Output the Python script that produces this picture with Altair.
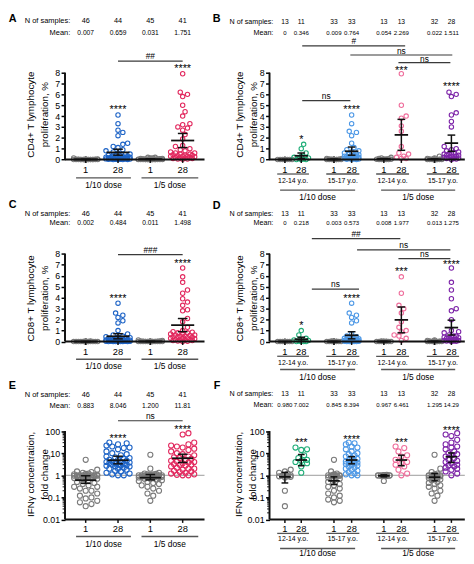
import math
import altair as alt
import pandas as pd

FONT = "Liberation Sans"

# ======================= DATA =======================
DOSES = ["1/10 dose", "1/5 dose"]
DAY_LABELS = ["1", "28", "1", "28", "1", "28", "1", "28"]
AGES = ["12-14 y.o.", "15-17 y.o.", "12-14 y.o.", "15-17 y.o."]
PROLIF_TICKS = [0, 1, 2, 3, 4, 5, 6, 7, 8]
FOLD_TICKS = [0.01, 0.1, 1, 10, 100]
TITLE_CD4 = ["CD4+ T lymphocyte", "proliferation, %"]
TITLE_CD8 = ["CD8+ T lymphocyte", "proliferation, %"]
TITLE_IFN = ["IFN\u03b3 concentration,", "fold change"]

# ---- A: CD4+ proliferation, %
A_N = ["46", "44", "45", "41"]
A_MEAN = ["0.007", "0.659", "0.031", "1.751"]
A_G1 = [0.15, 0.05, 0.03, 0.02, 0.02, 0.01, 0.01, 0.01, 0.01, 0.01, 0.01,
        0, 0, 0, 0, 0, 0, 0, 0, 0, 0, 0, 0, 0, 0, 0, 0, 0, 0, 0, 0,
        0, 0, 0, 0, 0, 0, 0, 0, 0, 0, 0, 0, 0, 0, 0]
A_G2 = [4.1, 3.3, 2.7, 2.5, 2.2, 1.5, 1.4, 1.2, 1.1, 0.9, 0.8, 0.7, 0.6, 0.5,
        0.45, 0.4, 0.38, 0.35, 0.3, 0.3, 0.28, 0.25, 0.22, 0.2, 0.2, 0.18,
        0.15, 0.15, 0.12, 0.1, 0.1, 0.08, 0.08, 0.06, 0.05, 0.05, 0.04, 0.03,
        0.02, 0.02, 0.01, 0, 0, 0]
A_G3 = [0.2, 0.2, 0.15, 0.15, 0.1, 0.1, 0.08, 0.06, 0.05, 0.04, 0.03, 0.03,
        0.03, 0.03, 0.03, 0.02, 0.02, 0.02, 0.02, 0.02, 0.01, 0.01, 0.01, 0.01,
        0.01, 0, 0, 0, 0, 0, 0, 0, 0, 0, 0, 0, 0, 0, 0, 0, 0, 0, 0, 0, 0]
A_G4 = [7.9, 6.2, 6.0, 5.8, 5.0, 4.4, 4.0, 3.3, 3.2, 3.0, 2.9, 2.7, 2.3, 1.9,
        1.3, 1.2, 1.0, 0.9, 0.8, 0.7, 0.6, 0.6, 0.5, 0.5, 0.45, 0.4, 0.4, 0.35,
        0.3, 0.3, 0.3, 0.25, 0.2, 0.2, 0.15, 0.15, 0.1, 0.1, 0.05, 0.05, 0.02]
A_CENTER = [0.007, 0.659, 0.031, 1.751]
A_LO = [0.0, 0.40, 0.01, 1.10]
A_HI = [0.015, 0.95, 0.05, 2.40]

# ---- B: CD4+ proliferation by age group
B_N = ["13", "11", "33", "33", "13", "13", "32", "28"]
B_MEAN = ["0", "0.346", "0.009", "0.764", "0.054", "2.269", "0.022", "1.511"]
B_G1 = [0, 0, 0, 0, 0, 0, 0, 0, 0, 0, 0, 0, 0]
B_G2 = [1.4, 1.0, 0.6, 0.3, 0.2, 0.15, 0.1, 0.05, 0, 0, 0]
B_G3 = [0.1, 0.08, 0.05, 0.03, 0.02, 0.01, 0.01, 0, 0, 0, 0, 0, 0, 0, 0, 0,
        0, 0, 0, 0, 0, 0, 0, 0, 0, 0, 0, 0, 0, 0, 0, 0, 0]
B_G4 = [4.1, 3.3, 2.6, 2.5, 2.2, 1.5, 1.1, 0.9, 0.8, 0.7, 0.6, 0.5, 0.5, 0.45,
        0.4, 0.35, 0.3, 0.3, 0.3, 0.25, 0.2, 0.2, 0.2, 0.15, 0.15, 0.1, 0.1,
        0.1, 0.05, 0.05, 0.02, 0.01, 0]
B_G5 = [0.2, 0.15, 0.1, 0.08, 0.06, 0.05, 0.03, 0.02, 0.01, 0, 0, 0, 0]
B_G6 = [7.9, 5.0, 4.0, 3.8, 3.1, 2.6, 1.2, 0.6, 0.5, 0.3, 0.2, 0.1, 0.1]
B_G7 = [0.3, 0.15, 0.1, 0.05, 0.05, 0.03, 0.02, 0.01, 0.01, 0, 0, 0, 0, 0, 0,
        0, 0, 0, 0, 0, 0, 0, 0, 0, 0, 0, 0, 0, 0, 0, 0, 0]
B_G8 = [6.2, 6.0, 5.8, 4.3, 4.1, 3.5, 3.0, 1.2, 1.0, 0.9, 0.8, 0.7, 0.6, 0.6,
        0.5, 0.5, 0.4, 0.4, 0.3, 0.3, 0.3, 0.2, 0.2, 0.15, 0.1, 0.1, 0.05, 0]
B_CENTER = [0, 0.346, 0.009, 0.764, 0.054, 2.269, 0.022, 1.511]
B_LO = [0, 0.10, 0.0, 0.40, 0.02, 0.85, 0.0, 0.75]
B_HI = [0, 0.60, 0.02, 1.15, 0.09, 3.70, 0.04, 2.25]

# ---- C: CD8+ proliferation, %
C_N = ["46", "44", "45", "41"]
C_MEAN = ["0.002", "0.484", "0.011", "1.498"]
C_G1 = [0.05, 0.02, 0.01, 0.01, 0, 0, 0, 0, 0, 0, 0, 0, 0, 0, 0, 0, 0, 0, 0,
        0, 0, 0, 0, 0, 0, 0, 0, 0, 0, 0, 0, 0, 0, 0, 0, 0, 0, 0, 0, 0, 0, 0,
        0, 0, 0, 0]
C_G2 = [3.5, 2.6, 2.4, 2.2, 1.9, 1.7, 1.0, 0.7, 0.6, 0.5, 0.45, 0.4, 0.35, 0.3,
        0.3, 0.25, 0.25, 0.2, 0.2, 0.2, 0.15, 0.15, 0.15, 0.12, 0.1, 0.1, 0.1,
        0.08, 0.08, 0.06, 0.05, 0.05, 0.04, 0.03, 0.03, 0.02, 0.02, 0.01, 0.01,
        0, 0, 0, 0, 0]
C_G3 = [0.15, 0.1, 0.05, 0.05, 0.04, 0.03, 0.02, 0.02, 0.02, 0.01, 0.01, 0, 0,
        0, 0, 0, 0, 0, 0, 0, 0, 0, 0, 0, 0, 0, 0, 0, 0, 0, 0, 0, 0, 0, 0, 0, 0,
        0, 0, 0, 0, 0, 0, 0, 0]
C_G4 = [6.7, 5.9, 5.4, 4.7, 4.4, 3.9, 3.6, 3.3, 2.9, 2.8, 2.1, 1.8, 1.3, 1.0,
        0.9, 0.85, 0.8, 0.8, 0.7, 0.7, 0.6, 0.6, 0.55, 0.5, 0.5, 0.45, 0.4, 0.4,
        0.35, 0.3, 0.3, 0.25, 0.2, 0.2, 0.15, 0.15, 0.1, 0.1, 0.05, 0.02, 0]
C_CENTER = [0.002, 0.484, 0.011, 1.498]
C_LO = [0.0, 0.25, 0.0, 0.90]
C_HI = [0.004, 0.72, 0.02, 2.10]

# ---- D: CD8+ proliferation by age group
D_N = ["13", "11", "33", "33", "13", "13", "32", "28"]
D_MEAN = ["0", "0.218", "0.003", "0.573", "0.008", "1.977", "0.013", "1.275"]
D_G1 = [0, 0, 0, 0, 0, 0, 0, 0, 0, 0, 0, 0, 0]
D_G2 = [1.0, 0.6, 0.3, 0.2, 0.15, 0.1, 0.05, 0, 0, 0, 0]
D_G3 = [0.05, 0.03, 0.02, 0, 0, 0, 0, 0, 0, 0, 0, 0, 0, 0, 0, 0, 0, 0, 0, 0,
        0, 0, 0, 0, 0, 0, 0, 0, 0, 0, 0, 0, 0]
D_G4 = [3.5, 2.6, 2.4, 2.2, 1.9, 1.7, 0.7, 0.5, 0.45, 0.4, 0.35, 0.3, 0.3, 0.25,
        0.2, 0.2, 0.2, 0.15, 0.15, 0.1, 0.1, 0.1, 0.08, 0.05, 0.05, 0.03, 0.02,
        0.02, 0.01, 0, 0, 0, 0]
D_G5 = [0.05, 0.03, 0.02, 0, 0, 0, 0, 0, 0, 0, 0, 0, 0]
D_G6 = [5.9, 4.4, 3.3, 3.0, 2.6, 1.8, 1.3, 1.0, 0.9, 0.6, 0.5, 0.3, 0.1]
D_G7 = [0.15, 0.1, 0.05, 0.05, 0.03, 0.02, 0.01, 0.01, 0, 0, 0, 0, 0, 0, 0, 0,
        0, 0, 0, 0, 0, 0, 0, 0, 0, 0, 0, 0, 0, 0, 0, 0]
D_G8 = [6.7, 5.4, 4.7, 3.9, 3.0, 2.8, 2.0, 1.0, 0.9, 0.8, 0.6, 0.5, 0.5, 0.4,
        0.4, 0.35, 0.3, 0.3, 0.2, 0.2, 0.15, 0.1, 0.1, 0.1, 0.05, 0.05, 0.02, 0]
D_CENTER = [0, 0.218, 0.003, 0.573, 0.008, 1.977, 0.013, 1.275]
D_LO = [0, 0.03, 0, 0.25, 0, 0.80, 0, 0.60]
D_HI = [0, 0.40, 0.006, 0.90, 0.017, 3.15, 0.025, 1.95]

# ---- E: IFN-gamma fold change (log scale)
E_N = ["46", "44", "45", "41"]
E_MEAN = ["0.883", "8.046", "1.200", "11.81"]
E_G1 = [5.0, 1.8, 1.5, 1.4, 1.3, 1.2, 1.15, 1.1, 1.05, 1.0, 1.0, 1.0, 1.0, 1.0,
        1.0, 1.0, 0.95, 0.95, 0.9, 0.9, 0.9, 0.85, 0.85, 0.8, 0.8, 0.75, 0.7,
        0.65, 0.6, 0.5, 0.45, 0.4, 0.35, 0.3, 0.3, 0.25, 0.2, 0.2, 0.15, 0.12,
        0.1, 0.09, 0.07, 0.06, 0.05, 0.04]
E_G2 = [30, 28, 25, 22, 20, 18, 17, 15, 12, 10, 8, 7, 6, 5.5, 5, 4.5, 4, 4,
        3.5, 3.5, 3, 3, 3, 2.8, 2.5, 2.5, 2.2, 2, 2, 1.8, 1.6, 1.5, 1.3, 1.2,
        1.1, 1.0, 1.0, 5, 4.2, 3.8, 3.2, 2.7, 6.5, 9]
E_G3 = [8.5, 2.0, 1.3, 1.2, 1.15, 1.1, 1.1, 1.05, 1.0, 1.0, 1.0, 1.0, 1.0, 1.0,
        1.0, 1.0, 1.0, 1.0, 1.0, 0.95, 0.95, 0.9, 0.9, 0.9, 0.85, 0.85, 0.8,
        0.8, 0.8, 0.75, 0.7, 0.7, 0.65, 0.6, 0.55, 0.5, 0.45, 0.4, 0.35, 0.3,
        0.25, 0.2, 0.15, 0.12, 0.07]
E_G4 = [80, 70, 30, 25, 22, 20, 18, 16, 14, 12, 10, 9, 8, 7, 6.5, 6, 5.5, 5,
        4.5, 4, 3.8, 3.5, 3.2, 3, 3, 2.8, 2.5, 2.2, 2, 2, 1.8, 1.6, 1.5, 1.4,
        1.3, 1.2, 1.1, 1.05, 1.0, 1.0, 4.2]
E_CENTER = [0.60, 4.8, 0.78, 5.9]
E_LO = [0.43, 3.3, 0.62, 3.8]
E_HI = [0.95, 7.3, 1.08, 9.0]

# ---- F: IFN-gamma fold change by age group (log scale)
F_N = ["13", "11", "33", "33", "13", "13", "32", "28"]
F_MEAN = ["0.980", "7.002", "0.845", "8.394", "0.967", "6.461", "1.295", "14.29"]
F_G1 = [1.8, 1.5, 1.3, 1.2, 1.0, 1.0, 0.95, 0.9, 0.9, 0.85, 0.8, 0.2, 0.04]
F_G2 = [18, 15, 14, 8, 6, 5, 4.5, 4, 3.5, 2.5, 1.3]
F_G3 = [5.0, 1.5, 1.2, 1.1, 1.0, 1.0, 1.0, 1.0, 1.0, 1.0, 1.0, 1.0, 1.0, 1.0,
        0.95, 0.9, 0.9, 0.85, 0.8, 0.7, 0.6, 0.5, 0.4, 0.35, 0.3, 0.25, 0.2,
        0.15, 0.12, 0.1, 0.08, 0.07, 0.06]
F_G4 = [30, 28, 25, 20, 18, 15, 12, 10, 9, 8, 7, 6, 5.5, 5, 4.5, 4.2, 4, 3.8,
        3.6, 3.5, 3.2, 3, 2.8, 2.5, 2.2, 2, 1.8, 1.6, 1.4, 1.2, 1.1, 1.0, 1.0]
F_G5 = [1.05, 1.02, 1.0, 1.0, 1.0, 1.0, 1.0, 0.98, 0.98, 0.97, 0.95, 0.93, 0.55]
F_G6 = [20, 17, 12, 8, 7, 5, 4, 3.5, 3, 2.5, 1.8, 1.2, 1.0]
F_G7 = [8.5, 2.0, 1.4, 1.2, 1.1, 1.0, 1.0, 1.0, 1.0, 1.0, 1.0, 1.0, 1.0, 0.95,
        0.9, 0.9, 0.85, 0.8, 0.75, 0.7, 0.65, 0.6, 0.5, 0.45, 0.4, 0.35, 0.3,
        0.25, 0.2, 0.15, 0.12, 0.07]
F_G8 = [80, 70, 60, 40, 30, 25, 20, 18, 15, 12, 10, 9, 8, 7, 6, 5, 4.5, 4, 3.5,
        3, 2.8, 2.5, 2.2, 2, 1.8, 1.5, 1.2, 1.0]
F_CENTER = [0.85, 4.9, 0.56, 4.9, 0.95, 4.9, 0.82, 6.9]
F_LO = [0.45, 2.7, 0.38, 3.3, 0.85, 2.7, 0.56, 3.8]
F_HI = [1.35, 8.7, 0.85, 7.0, 1.05, 8.1, 1.2, 10.3]

# ======================= STYLE / LAYOUT =======================
BLACK = "#111111"
GRAY = "#7a7a7a"
BLUE = "#1d63c6"
RED = "#e2285e"
GREEN = "#1fae78"
LBLUE = "#4d98e6"
PINK = "#ef6e9c"
PURPLE = "#7d24a8"
BRK = "#3a3a3a"
ULINE = "#555555"

SX = 464 / 474
SY = 554 / 564

ROWS = {
    1: dict(top=0, bottom=185, log=False, y0=151.0, k=11.25),
    2: dict(top=185, bottom=370, log=False, y0=339.3, k=11.375),
    3: dict(top=370, bottom=564, log=True, y0=523.3, k=22.9),
}
COLS = {
    "L": dict(left=58.5, right=203.5, x0=80.0, u=33.6, base=1.0),
    "R": dict(left=271.0, right=474.0, x0=287.0, u=17.0, base=0.0),
}
CAT_L = [1, 2, 3, 4]
CAT_R = [0, 1, 3.0, 4.08, 6.05, 7.12, 9.15, 10.18]


def yv(row, ypx):
    r = ROWS[row]
    t = (r["y0"] - ypx) / r["k"]
    return 10 ** (t - 2) if r["log"] else t


def ypx(row, v):
    r = ROWS[row]
    return r["y0"] - r["k"] * ((math.log10(v) + 2) if r["log"] else v)


def xv(col, xp):
    c = COLS[col]
    return c["base"] + (xp - c["x0"]) / c["u"]


def xpx(col, pos):
    c = COLS[col]
    return c["x0"] + c["u"] * (pos - c["base"])


def swarm(ys, diam, cap):
    step = diam * 0.5
    cands = [0.0]
    k = 1
    while k * step <= cap + 1e-9:
        cands += [k * step, -k * step]
        k += 1
    order = sorted(range(len(ys)), key=lambda i: (-ys[i], i))
    placed = []
    offs = [0.0] * len(ys)
    for i in order:
        y = ys[i]
        best, bestd = 0.0, -1.0
        for c in cands:
            md = min((math.hypot(c - px, y - py) for px, py in placed), default=1e9)
            if md >= diam:
                best = c
                break
            if md > bestd + 1e-9:
                bestd, best = md, c
        offs[i] = best
        placed.append((best, y))
    return offs


PANELS = [
    dict(row=1, col="L", letter="A", letter_xy=(0, 5.5),
         groups=[A_G1, A_G2, A_G3, A_G4], colors=[GRAY, BLUE, GRAY, RED],
         N=A_N, means=A_MEAN, center=A_CENTER, lo=A_LO, hi=A_HI,
         label_x=64, n_y=8, m_y=20, hfs=6.8, lfs=7.6,
         stars=[(1, "****", 97), (3, "****", 54)],
         brackets=[(113.6, 180.8, 49, "##", 44)],
         tick_y=162, grp_y=170, grp_lab_y=177,
         title=TITLE_CD4, title_dx=-28.5, title_y=104,
         diam=5, cap=13, mean_hw=12, cap_hw=5, size=20),
    dict(row=1, col="R", letter="B", letter_xy=(212, 5.5),
         groups=[B_G1, B_G2, B_G3, B_G4, B_G5, B_G6, B_G7, B_G8],
         colors=[GRAY, GREEN, GRAY, LBLUE, GRAY, PINK, GRAY, PURPLE],
         N=B_N, means=B_MEAN, center=B_CENTER, lo=B_LO, hi=B_HI,
         label_x=275, n_y=8.3, m_y=20, hfs=6.2, lfs=7.3,
         stars=[(1, "*", 128), (3, "****", 97), (5, "***", 56), (7, "****", 73)],
         brackets=[(305, 412, 33.3, "#", 28.5), (355, 461, 42.7, "ns", 38.5),
                   (405, 459, 50.7, "ns", 46.5), (305, 355, 90, "ns", 85)],
         tick_y=161.5, pair_y=166, age_y=173.5, dose_y=182.7, dose_lab_y=190,
         title=TITLE_CD4, title_dx=-24, title_y=104,
         diam=5, cap=7.5, mean_hw=7, cap_hw=4, size=20),
    dict(row=2, col="L", letter="C", letter_xy=(0, 198),
         groups=[C_G1, C_G2, C_G3, C_G4], colors=[GRAY, BLUE, GRAY, RED],
         N=C_N, means=C_MEAN, center=C_CENTER, lo=C_LO, hi=C_HI,
         label_x=64, n_y=206.7, m_y=216.7, hfs=6.8, lfs=7.6,
         stars=[(1, "****", 291.7), (3, "****", 256)],
         brackets=[(113.6, 180.8, 249.3, "###", 244.5)],
         tick_y=350, grp_y=357.7, grp_lab_y=365,
         title=TITLE_CD8, title_dx=-28.5, title_y=109,
         diam=5, cap=13, mean_hw=12, cap_hw=5, size=20),
    dict(row=2, col="R", letter="D", letter_xy=(212, 199),
         groups=[D_G1, D_G2, D_G3, D_G4, D_G5, D_G6, D_G7, D_G8],
         colors=[GRAY, GREEN, GRAY, LBLUE, GRAY, PINK, GRAY, PURPLE],
         N=D_N, means=D_MEAN, center=D_CENTER, lo=D_LO, hi=D_HI,
         label_x=275, n_y=206.7, m_y=216.7, hfs=6.2, lfs=7.3,
         stars=[(1, "*", 320), (3, "****", 292.5), (5, "***", 264), (7, "****", 257)],
         brackets=[(315, 407, 232.7, "##", 227.5), (362, 459, 244.3, "ns", 239),
                   (405, 459, 253.3, "ns", 248.5), (315, 364, 285, "ns", 280)],
         tick_y=350, pair_y=354.5, age_y=361, dose_y=368.3, dose_lab_y=376.5,
         title=TITLE_CD8, title_dx=-24, title_y=109,
         diam=5, cap=7.5, mean_hw=7, cap_hw=4, size=20),
    dict(row=3, col="L", letter="E", letter_xy=(0, 385),
         groups=[E_G1, E_G2, E_G3, E_G4], colors=[GRAY, BLUE, GRAY, RED],
         N=E_N, means=E_MEAN, center=E_CENTER, lo=E_LO, hi=E_HI,
         label_x=64, n_y=394, m_y=406, hfs=6.8, lfs=7.6,
         stars=[(1, "****", 437.3), (3, "****", 427.3)],
         brackets=[(113.6, 180.8, 421, "ns", 416.5)],
         tick_y=533.3, grp_y=541, grp_lab_y=548.3,
         title=TITLE_IFN, title_dx=-28.5, title_y=106,
         diam=6, cap=12, mean_hw=11, cap_hw=5, size=27),
    dict(row=3, col="R", letter="F", letter_xy=(213, 385),
         groups=[F_G1, F_G2, F_G3, F_G4, F_G5, F_G6, F_G7, F_G8],
         colors=[GRAY, GREEN, GRAY, LBLUE, GRAY, PINK, GRAY, PURPLE],
         N=F_N, means=F_MEAN, center=F_CENTER, lo=F_LO, hi=F_HI,
         label_x=275, n_y=393.3, m_y=405, hfs=6.2, lfs=7.3,
         stars=[(1, "***", 441), (3, "****", 438.3), (5, "***", 441), (7, "****", 428.3)],
         brackets=[],
         tick_y=533.3, pair_y=537.7, age_y=544, dose_y=553.3, dose_lab_y=558.5,
         title=TITLE_IFN, title_dx=-25, title_y=106,
         diam=6, cap=8, mean_hw=6, cap_hw=3.5, size=27),
]

TITLE_LH = 14


def panel(P):
    row, col = P["row"], P["col"]
    R, C = ROWS[row], COLS[col]
    cats = CAT_L if col == "L" else CAT_R
    W = (C["right"] - C["left"]) * SX
    H = (R["bottom"] - R["top"]) * SY
    xdom = [xv(col, C["left"]), xv(col, C["right"])]
    ydom = [yv(row, R["bottom"]), yv(row, R["top"])]
    xs = alt.Scale(domain=xdom, nice=False, zero=False)
    ys = alt.Scale(type="log" if R["log"] else "linear", domain=ydom, nice=False, zero=False)
    axis = alt.Axis(
        values=FOLD_TICKS if R["log"] else PROLIF_TICKS,
        format="~g", title=P["title"],
        titleX=P["title_dx"] * SX - TITLE_LH / 2, titleY=P["title_y"] * SY,
        titleAngle=270, titleAlign="center", titleBaseline="middle",
        titleFontSize=10, titleFontWeight="normal", titleLineHeight=TITLE_LH, titleColor="black",
        labelFontSize=9, labelColor="black", labelPadding=1.5, labelOverlap=False,
        tickColor="black", tickWidth=1.5, tickSize=4, domain=False, grid=False,
    )
    X = alt.X("x:Q", scale=xs, axis=None)
    Y = alt.Y("y:Q", scale=ys, axis=axis)
    ybot = 0.01 if R["log"] else 0.0
    ytop = 100.0 if R["log"] else 8.0
    u = C["u"]

    pts = []
    for gi, vals in enumerate(P["groups"]):
        yp = [ypx(row, v) for v in vals]
        offs = swarm(yp, P["diam"], P["cap"])
        for v, o in zip(vals, offs):
            pts.append(dict(x=cats[gi] + o / u, y=v, c=P["colors"][gi]))
    pts = pd.DataFrame(pts)

    back, front = [], []

    def seg(lst, x1, x2, y1, y2, c, w):
        lst.append(dict(x=x1, x2=x2, y=y1, y2=y2, c=c, w=w))

    if R["log"]:
        seg(back, xdom[0], xdom[1], 1.0, 1.0, "#9a9a9a", 1.0)
        for d in range(-2, 2):
            for m in range(2, 10):
                v = m * 10 ** d
                seg(front, xdom[0] - 2.5 / u, xdom[0], v, v, BLACK, 1.0)
    seg(back, xdom[0], xdom[0], ybot, ytop, BLACK, 2.0)
    for gi in range(len(P["groups"])):
        p = cats[gi]
        m, lo, hi = P["center"][gi], P["lo"][gi], P["hi"][gi]
        hw, cw = P["mean_hw"] / u, P["cap_hw"] / u
        seg(front, p - hw, p + hw, m, m, BLACK, 1.8)
        if hi > lo:
            seg(front, p, p, lo, hi, BLACK, 1.5)
            seg(front, p - cw, p + cw, lo, lo, BLACK, 1.5)
            seg(front, p - cw, p + cw, hi, hi, BLACK, 1.5)
    seg(front, xdom[0], xdom[1], ybot, ybot, BLACK, 2.0)
    for p in cats:
        seg(front, p, p, ybot, yv(row, ypx(row, ybot) + 3.5), BLACK, 1.5)

    texts = []

    def txt(x, y, t, fs):
        texts.append(dict(x=x, y=y, t=t, fs=fs))

    for (x1, x2, yb, t, ty) in P["brackets"]:
        seg(front, xv(col, x1), xv(col, x2), yv(row, yb), yv(row, yb), BRK, 1.2)
        txt(xv(col, (x1 + x2) / 2), yv(row, ty), t, 8.5)
    for gi, p in enumerate(cats):
        txt(p, yv(row, P["n_y"]), P["N"][gi], P["hfs"] + 0.6)
        txt(p, yv(row, P["m_y"]), P["means"][gi], P["hfs"])
        txt(p, yv(row, P["tick_y"]), DAY_LABELS[gi], 9.5)
    if col == "L":
        for (a, b), lab in zip([(70, 127), (138, 197)], DOSES):
            seg(front, xv(col, a), xv(col, b), yv(row, P["grp_y"]), yv(row, P["grp_y"]), ULINE, 1.5)
            txt(xv(col, (a + b) / 2), yv(row, P["grp_lab_y"]), lab, 8.5)
    else:
        for j in range(4):
            a = xpx(col, cats[2 * j]) - 8
            b = xpx(col, cats[2 * j + 1]) + 8
            seg(front, xv(col, a), xv(col, b), yv(row, P["pair_y"]), yv(row, P["pair_y"]), ULINE, 1.3)
            txt(xv(col, (a + b) / 2), yv(row, P["age_y"]), AGES[j], 7)
        for (a, b), lab in zip([(282, 360), (387, 464)], DOSES):
            seg(front, xv(col, a), xv(col, b), yv(row, P["dose_y"]), yv(row, P["dose_y"]), ULINE, 1.5)
            txt(xv(col, (a + b) / 2), yv(row, P["dose_lab_y"]), lab, 8.5)

    stars = pd.DataFrame([dict(x=cats[g], y=yv(row, sy), t=t) for g, t, sy in P["stars"]])
    rlabels = pd.DataFrame([
        dict(x=xv(col, P["label_x"]), y=yv(row, P["n_y"]), t="N of samples:"),
        dict(x=xv(col, P["label_x"]), y=yv(row, P["m_y"]), t="Mean:"),
    ])
    letter = pd.DataFrame([dict(x=xv(col, P["letter_xy"][0]), y=yv(row, P["letter_xy"][1]), t=P["letter"])])

    seg_enc = dict(x=X, x2=alt.X2("x2:Q"), y=Y, y2=alt.Y2("y2:Q"),
                   color=alt.Color("c:N", scale=None),
                   strokeWidth=alt.StrokeWidth("w:Q", scale=None))
    layers = [
        alt.Chart(pd.DataFrame(back)).mark_rule().encode(**seg_enc),
        alt.Chart(pts).mark_point(shape="circle", filled=False, opacity=1,
                                  strokeWidth=1.1, size=P["size"]).encode(
            x=X, y=Y, color=alt.Color("c:N", scale=None)),
        alt.Chart(pd.DataFrame(front)).mark_rule(strokeCap="butt").encode(**seg_enc),
        alt.Chart(pd.DataFrame(texts)).mark_text(
            align="center", baseline="middle", color="black").encode(
            x=X, y=Y, text=alt.Text("t:N"), size=alt.Size("fs:Q", scale=None)),
        alt.Chart(stars).mark_text(
            align="center", baseline="alphabetic", dy=6, fontSize=11, color="black").encode(
            x=X, y=Y, text=alt.Text("t:N")),
        alt.Chart(rlabels).mark_text(
            align="right", baseline="middle", fontSize=P["lfs"], color="black").encode(
            x=X, y=Y, text=alt.Text("t:N")),
        alt.Chart(letter).mark_text(
            align="left", baseline="middle", fontSize=11, fontWeight="bold", color="black").encode(
            x=X, y=Y, text=alt.Text("t:N")),
    ]
    return alt.layer(*layers).properties(width=W, height=H)


charts = [panel(P) for P in PANELS]
GAP = (COLS["R"]["left"] - COLS["L"]["right"]) * SX
chart = alt.concat(
    *charts, columns=2,
    spacing=alt.RowColnumber(row=0, column=GAP),
    bounds="flush", align="each", padding=0,
).configure(font=FONT).configure_view(strokeWidth=0, stroke=None)

chart.save("out.html", embed_options={"renderer": "svg", "actions": False})
